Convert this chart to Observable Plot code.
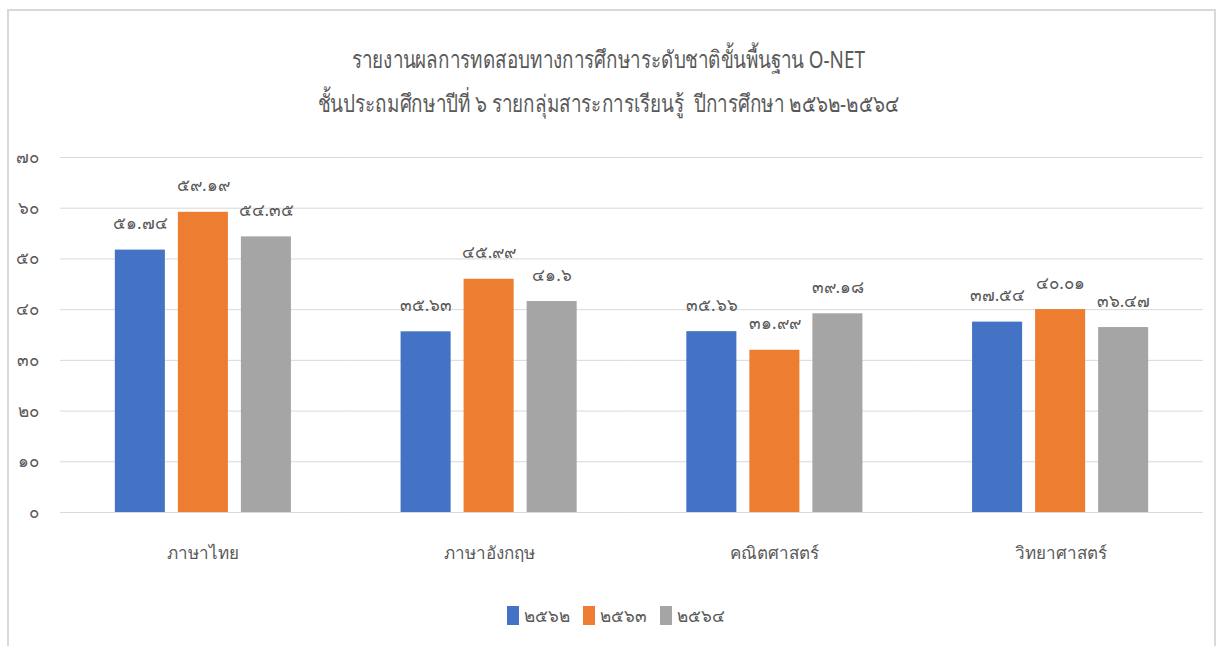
<!DOCTYPE html>
<html>
<head>
<meta charset="utf-8">
<script src="https://cdn.jsdelivr.net/npm/d3@7"></script>
<script src="https://cdn.jsdelivr.net/npm/@observablehq/plot@0.6"></script>
<style>
  html, body { margin: 0; padding: 0; background: #fff; width: 1219px; height: 646px; overflow: hidden; }
  body { font-family: "Noto Sans", "DejaVu Sans", sans-serif; color: #595959; }
  #frame { position: absolute; left: 7px; top: 9px; width: 1209px; height: 660px; border: 2px solid #d9d9d9; box-sizing: border-box; }
  #title { position: absolute; left: 0; top: 37px; width: 1219px; text-align: center; font-size: 24px; line-height: 44px; color: #595959; transform: scaleX(0.785); transform-origin: 604px 0; }
  #chart { position: absolute; left: 0; top: 130px; }
  #legend { position: absolute; left: 1px; top: 602px; width: 1230px; display: flex; justify-content: center; gap: 13px; font-size: 17px; color: #595959; }
  .item { display: flex; align-items: center; gap: 5px; }
  .sw { width: 12px; height: 19px; display: inline-block; }
</style>
</head>
<body>
<div id="frame"></div>
<div id="title"></div>
<div id="chart"></div>
<div id="legend"></div>
<script>
const titleLines = ["รายงานผลการทดสอบทางการศึกษาระดับชาติขั้นพื้นฐาน O-NET", "ชั้นประถมศึกษาปีที่ ๖ รายกลุ่มสาระการเรียนรู้  ปีการศึกษา ๒๕๖๒-๒๕๖๔"];
const subjects = ["ภาษาไทย", "ภาษาอังกฤษ", "คณิตศาสตร์", "วิทยาศาสตร์"];
const years = ["๒๕๖๒", "๒๕๖๓", "๒๕๖๔"];
const v2562 = [51.74, 35.63, 35.66, 37.54];
const v2563 = [59.19, 45.99, 31.99, 40.01];
const v2564 = [54.35, 41.6, 39.18, 36.47];
const colors = ["#4472C4", "#ED7D31", "#A5A5A5"];
const yTicks = [0, 10, 20, 30, 40, 50, 60, 70];

const thaiDigits = "๐๑๒๓๔๕๖๗๘๙";
const toThai = s => String(s).replace(/[0-9]/g, d => thaiDigits[+d]);

const series = [v2562, v2563, v2564];
const data = [];
subjects.forEach((s, i) => {
  years.forEach((y, j) => data.push({subject: s, year: y, value: series[j][i]}));
});

document.getElementById("title").innerHTML = titleLines.map(t => `<div style="white-space:pre">${t}</div>`).join("");

const chart = Plot.plot({
  width: 1219,
  height: 450,
  marginLeft: 60,
  marginRight: 16,
  marginTop: 27,
  marginBottom: 68,
  style: {fontFamily: '"Noto Sans", "DejaVu Sans", sans-serif', color: "#595959", background: "transparent"},
  fx: {domain: subjects, padding: 0, round: false, label: null},
  x: {domain: years, paddingInner: 0.206, paddingOuter: 0.87, round: false, axis: null},
  y: {domain: [0, 70], label: null},
  color: {domain: years, range: colors},
  marks: [
    Plot.ruleY(yTicks, {stroke: "#d9d9d9", strokeWidth: 1}),
    Plot.barY(data, {fx: "subject", x: "year", y: "value", fill: "year"}),
    Plot.text(data, {fx: "subject", x: "year", y: "value", text: d => toThai(d.value), lineAnchor: "bottom", dy: -21, fontSize: 17, fill: "#595959"}),
    Plot.axisY({ticks: yTicks, tickFormat: toThai, tickSize: 0, tickPadding: 22, fontSize: 17, fill: "#595959", label: null}),
    Plot.axisFx({anchor: "bottom", tickSize: 0, tickPadding: 34, fontSize: 17, fill: "#595959", label: null})
  ]
});
document.getElementById("chart").appendChild(chart);

document.getElementById("legend").innerHTML = years.map((y, i) =>
  `<span class="item"><span class="sw" style="background:${colors[i]}"></span><span>${y}</span></span>`).join("");
</script>
</body>
</html>
